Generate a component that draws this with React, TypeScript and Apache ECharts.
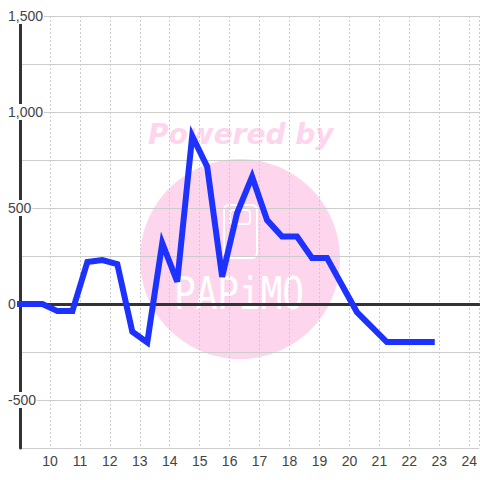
import React, { useEffect, useRef } from "react";
import * as echarts from "echarts";

// Time of day (hours) and values
const hours = [9, 9.75, 10.25, 10.75, 11.25, 11.75, 12.25, 12.75, 13.25, 13.75, 14.25, 14.75, 15.25, 15.75, 16.25, 16.75, 17.25, 17.75, 18.25, 18.75, 19.25, 19.75, 20.25, 20.75, 21.25, 21.75, 22.25, 22.75];
const values = [0, 0, -37, -37, 219, 229, 208, -144, -200, 317, 116, 875, 715, 142, 474, 663, 437, 351, 351, 240, 240, 99, -42, -120, -198, -198, -198, -198];

const xMin = 9;
const xMax = 24.333;
const yMin = -750;
const yMax = 1500;
const yLabelStep = 500;

const FONT = "'Liberation Sans', Arial, sans-serif";
const PINK = "#fdd6ee";

export default function App() {
  const ref = useRef<HTMLDivElement>(null);
  useEffect(() => {
    if (!ref.current) return;
    const chart = echarts.init(ref.current, undefined, { renderer: "svg" });
    const data = hours.map((h, i) => [h, values[i]]);
    chart.setOption({
      animation: false,
      backgroundColor: "#ffffff",
      grid: { left: 20, right: 0, top: 16, bottom: 32, containLabel: false },
      graphic: [
        { type: "circle", z: -10, silent: true, shape: { cx: 240, cy: 259, r: 100 }, style: { fill: PINK } },
        {
          type: "text", z: -10, silent: true, x: 148, y: 148,
          style: {
            text: "Powered by", fill: PINK, fontSize: 28, fontWeight: "bold", fontStyle: "italic",
            fontFamily: "DejaVu Sans", verticalAlign: "bottom", align: "left",
          },
        },
        {
          type: "rect", z: -9, silent: true, shape: { x: 224, y: 205, width: 33, height: 53, r: 5 },
          style: { fill: "none", stroke: "#ffffff", lineWidth: 2 },
        },
        {
          type: "rect", z: -9, silent: true, shape: { x: 230, y: 210, width: 20, height: 14, r: 3 },
          style: { fill: "none", stroke: "#ffffff", lineWidth: 2 },
        },
        {
          type: "text", z: -9, silent: true, x: 174, y: 271, scaleY: 1.25,
          style: {
            text: "PAPiMO", fill: "#ffffff", fontSize: 36, fontFamily: "DejaVu Sans Mono",
            verticalAlign: "top", align: "left",
          },
        },
      ],
      xAxis: [
        {
          type: "value", min: xMin, max: xMax, interval: 1,
          axisLine: { show: false, onZero: false },
          axisTick: { show: false },
          axisLabel: {
            margin: 6, color: "#444", fontSize: 14, fontFamily: FONT, showMinLabel: false, showMaxLabel: false,
            formatter: (v: number) => (Number.isInteger(v) && v > xMin ? String(v) : ""),
          },
          splitLine: { show: true, lineStyle: { color: "#cccccc", width: 1, type: [2, 2] } },
        },
        {
          type: "value", min: xMin, max: xMax, interval: 1, position: "bottom",
          axisLine: { show: true, onZero: true, lineStyle: { color: "#333333", width: 3 } },
          axisTick: { show: false },
          axisLabel: { show: false },
          splitLine: { show: false },
        },
      ],
      yAxis: {
        type: "value", min: yMin, max: yMax, interval: 250,
        axisLine: { show: true, onZero: false, lineStyle: { color: "#333333", width: 3 } },
        axisTick: { show: false },
        axisLabel: {
          margin: 13, align: "left", color: "#444", fontSize: 14, fontFamily: FONT,
          backgroundColor: "#ffffff", padding: [1, 1],
          formatter: (v: number) => (v % yLabelStep === 0 ? v.toLocaleString("en-US") : ""),
        },
        splitLine: { show: true, lineStyle: { color: "#cccccc", width: 1 } },
      },
      series: [
        {
          type: "line", xAxisIndex: 0, data, symbol: "none", z: 5,
          lineStyle: { color: "#1e32ff", width: 6, cap: "square", join: "miter" },
        },
      ],
    });
    return () => chart.dispose();
  }, []);
  return <div ref={ref} style={{ position: "absolute", left: 0, top: 0, width: 480, height: 480 }} />;
}
